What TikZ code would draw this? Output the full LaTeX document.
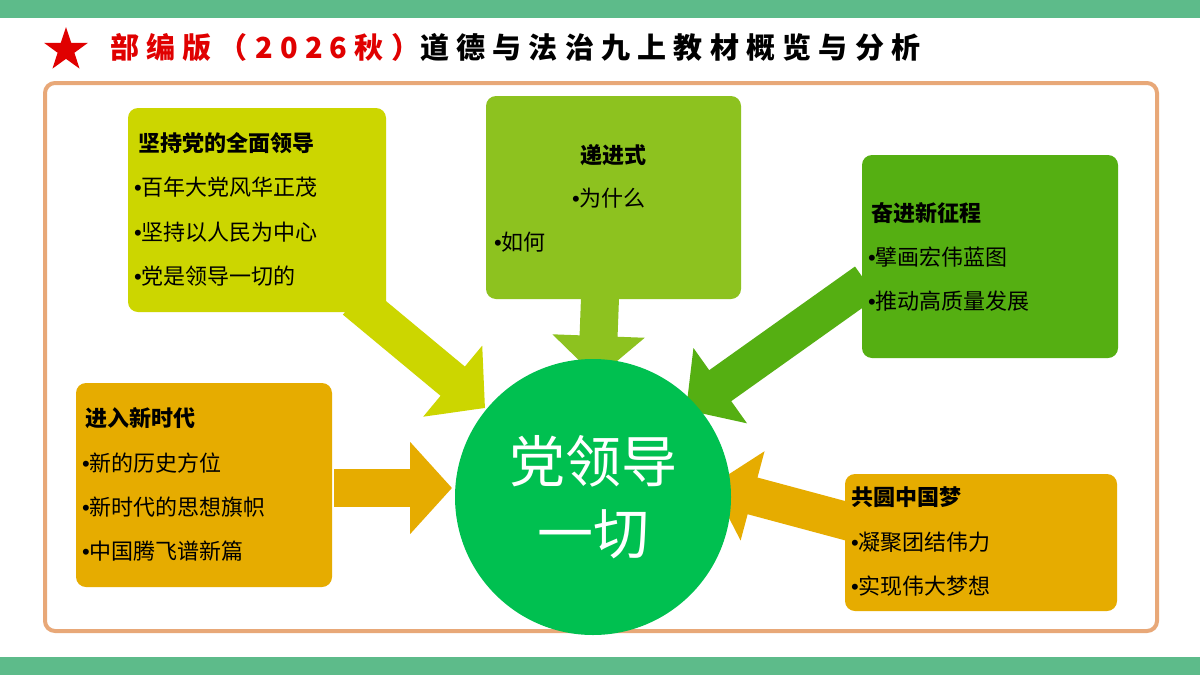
\documentclass[tikz,border=0pt]{standalone}
\usepackage{fontspec}
\setmainfont{Noto Sans CJK SC}
\newfontfamily\bulf{Liberation Sans}
\newcommand{\bu}{{\bulf •}}
\usetikzlibrary{arrows.meta,shapes.geometric}
\definecolor{barg}{HTML}{5DBB8A}
\definecolor{frameo}{HTML}{E8A878}
\definecolor{cA}{HTML}{CCD600}
\definecolor{cB}{HTML}{8DC21F}
\definecolor{cC}{HTML}{55AF12}
\definecolor{cD}{HTML}{E6AC00}
\definecolor{circ}{HTML}{00C050}
\definecolor{redt}{HTML}{E00000}
\tikzset{
 txt/.style={anchor=west,font=\fontsize{22}{24}\selectfont,inner sep=0pt},
 ttl/.style={anchor=west,font=\fontsize{22}{24}\selectfont\bfseries,inner sep=0pt},
 blk/.style={line width=38pt,-{Triangle[length=42pt,width'=90pt]}}
}
\begin{document}
\begin{tikzpicture}[x=1pt,y=-1pt]
\useasboundingbox (0,0) rectangle (1200,675);
\fill[white] (0,0) rectangle (1200,675);
\fill[barg] (0,0) rectangle (1200,18);
\fill[barg] (0,657) rectangle (1200,675);
\node[star,star points=5,star point ratio=2.6,fill=redt,minimum size=46pt,inner sep=0pt] (star) at (66,50) {};
\node[anchor=west,inner sep=0pt,font=\fontsize{29}{32}\selectfont\bfseries\addfontfeature{LetterSpace=25}] (title) at (110,48) {\textcolor{redt}{部编版（2026秋）}道德与法治九上教材概览与分析};
\draw[frameo,line width=4pt,rounded corners=10pt] (45,83) rectangle (1157,631);
% arrows
\coordinate (a1s) at (355,300); \coordinate (a1e) at (485,408);
\coordinate (a2s) at (600,298); \coordinate (a2e) at (597,378);
\coordinate (a3s) at (866,282); \coordinate (a3e) at (686,410);
\coordinate (a4s) at (334,488); \coordinate (a4e) at (452,488);
\coordinate (a5s) at (850,522); \coordinate (a5e) at (712,485);
\draw[blk,cA] (a1s) -- (a1e);
\draw[blk,cB] (a2s) -- (a2e);
\draw[blk,cC] (a3s) -- (a3e);
\draw[blk,cD] (a4s) -- (a4e);
\draw[blk,cD] (a5s) -- (a5e);
% boxes
\fill[cA,rounded corners=10pt] (128,108) rectangle (386,312);
\fill[cB,rounded corners=10pt] (486,96) rectangle (741,299);
\fill[cC,rounded corners=10pt] (862,155) rectangle (1118,358);
\fill[cD,rounded corners=10pt] (76,383) rectangle (332,587);
\fill[cD,rounded corners=10pt] (845,474) rectangle (1117,611);
\node[circle,fill=circ,minimum size=276pt,inner sep=0pt] (c) at (593,497) {};
\node[white,align=center,font=\fontsize{56}{72}\selectfont] (ct) at (593,497) {党领导\\一切};
% texts
\node[ttl] (t1) at (138,143) {坚持党的全面领导};
\node[txt] (t1a) at (134,187) {\bu 百年大党风华正茂};
\node[txt] (t1b) at (134,232) {\bu 坚持以人民为中心};
\node[txt] (t1c) at (134,276) {\bu 党是领导一切的};
\node[ttl,anchor=center] (t2) at (613,155) {递进式};
\node[txt] (t2a) at (572,198) {\bu 为什么};
\node[txt] (t2b) at (494,242) {\bu 如何};
\node[ttl] (t3) at (871,213) {奋进新征程};
\node[txt] (t3a) at (868,257) {\bu 擘画宏伟蓝图};
\node[txt] (t3b) at (868,301) {\bu 推动高质量发展};
\node[ttl] (t4) at (85,418) {进入新时代};
\node[txt] (t4a) at (82,463) {\bu 新的历史方位};
\node[txt] (t4b) at (82,507) {\bu 新时代的思想旗帜};
\node[txt] (t4c) at (82,551) {\bu 中国腾飞谱新篇};
\node[ttl] (t5) at (851,497) {共圆中国梦};
\node[txt] (t5a) at (851,542) {\bu 凝聚团结伟力};
\node[txt] (t5b) at (851,586) {\bu 实现伟大梦想};
\end{tikzpicture}
\end{document}
